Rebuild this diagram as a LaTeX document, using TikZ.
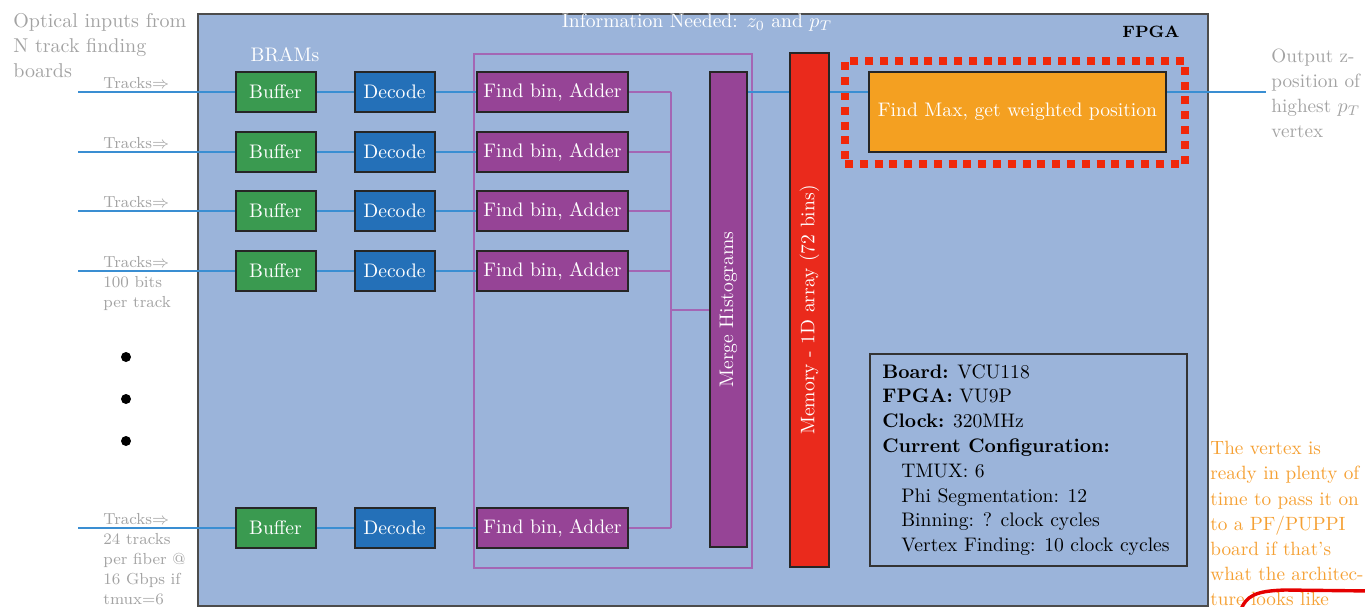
\documentclass[tikz,border=0pt]{standalone}
\usetikzlibrary{calc}
\definecolor{fpgabg}{HTML}{9BB4DA}
\definecolor{bufgreen}{HTML}{3A9A50}
\definecolor{decblue}{HTML}{2470B8}
\definecolor{purp}{HTML}{964496}
\definecolor{purpline}{HTML}{A466B4}
\definecolor{memred}{HTML}{EA2A1C}
\definecolor{orangebox}{HTML}{F4A021}
\definecolor{wire}{HTML}{3A8ED2}
\definecolor{graytext}{HTML}{A3A3A3}
\definecolor{notecol}{HTML}{F5A033}
\definecolor{dotred}{HTML}{F0280A}
\begin{document}
\begin{tikzpicture}[x=0.5pt,y=-0.5pt,
  font=\fontsize{9.8}{12.4}\selectfont,
  blk/.style={draw=black!85, line width=1pt, text=white, inner sep=0pt, minimum height=20pt},
  bufbox/.style={blk, fill=bufgreen, minimum width=40pt},
  decbox/.style={blk, fill=decblue, minimum width=40pt},
  findbox/.style={blk, fill=purp, minimum width=75.5pt},
  wireline/.style={draw=wire, line width=1pt},
  purpwire/.style={draw=purpline, line width=0.8pt},
  graylbl/.style={text=graytext, align=left, inner sep=0pt},
  trk/.style={graylbl, font=\fontsize{8}{10}\selectfont, anchor=north west},
  dotnode/.style={circle, fill=black, inner sep=0pt, minimum size=5pt}
]
\useasboundingbox (0,0) rectangle (1365,606);

% FPGA box
\node[draw=black!70, line width=1pt, fill=fpgabg, minimum width=505pt, minimum height=296pt, anchor=north west, inner sep=0pt] (fpga) at (197,13) {};
\node[font=\fontsize{8.2}{10}\selectfont\bfseries, anchor=east, inner sep=0pt] (fpgalbl) at (1180,32) {FPGA};
\node[text=white, inner sep=0pt] (info) at (697,23) {Information Needed: $z_0$ and $p_T$};
\node[text=white, inner sep=0pt] (brams) at (285,55) {BRAMs};

% group outline
\node[draw=purpline, line width=0.8pt, minimum width=139pt, minimum height=257pt, anchor=north west, inner sep=0pt] (group) at (473,53) {};

% rows
\foreach \i/\y in {1/92,2/152,3/211,4/271,5/528}{
  \node[bufbox] (buf\i) at (275.5,\y) {Buffer};
  \node[decbox] (dec\i) at (394.5,\y) {Decode};
  \node[findbox] (fb\i) at (552.5,\y) {Find bin, Adder};
  \coordinate (in\i) at (78,\y);
  \draw[wireline] (in\i) -- (buf\i);
  \draw[wireline] (buf\i) -- (dec\i);
  \draw[wireline] (dec\i) -- (fb\i);
}

% merge
\node[blk, fill=purp, minimum width=18.5pt, minimum height=237.5pt] (merge) at (728.5,309.5) {\rotatebox{90}{Merge Histograms}};
\coordinate (bustop) at (671,92);
\coordinate (busbot) at (671,528);
\coordinate (busmid) at (671,310);
\foreach \i in {1,2,3,4,5}{
  \draw[purpwire] (fb\i.east) -- (fb\i.east -| bustop);
}
\draw[purpwire] (bustop) -- (busbot);
\draw[purpwire] (busmid) -- (busmid -| merge.west);

% memory
\node[blk, fill=memred, minimum width=19.5pt, minimum height=257pt] (mem) at (809.5,310) {\rotatebox{90}{Memory - 1D array (72 bins)}};

% find max
\node[blk, fill=orangebox, minimum width=148.5pt, minimum height=40pt] (findmax) at (1017.5,112) {Find Max, get weighted position};
\node[draw=dotred, line width=4pt, dash pattern=on 4pt off 3.4pt, minimum width=170pt, minimum height=51.5pt, inner sep=0pt] (dotbox) at (1015,112.5) {};

\coordinate (outend) at (1266,92);
\draw[wireline] (merge.east |- fb1.east) -- (mem.west |- fb1.east);
\draw[wireline] (mem.east |- fb1.east) -- (findmax.west |- fb1.east);
\draw[wireline] (findmax.east |- fb1.east) -- (outend);

% left labels
\node[graylbl, anchor=north west, font=\fontsize{10}{12.5}\selectfont] (optical) at (13,13) {Optical inputs from\\N track finding\\boards};
\node[trk] (t1) at (103,77) {Tracks$\Rightarrow$};
\node[trk] (t2) at (103,137) {Tracks$\Rightarrow$};
\node[trk] (t3) at (103,196) {Tracks$\Rightarrow$};
\node[trk] (t4) at (103,256) {Tracks$\Rightarrow$\\100 bits\\per track};
\node[trk] (t5) at (103,513) {Tracks$\Rightarrow$\\24 tracks\\per fiber @\\16 Gbps if\\tmux=6};

\node[dotnode] (d1) at (126,357) {};
\node[dotnode] (d2) at (126,399) {};
\node[dotnode] (d3) at (126,441) {};

% output label
\node[graylbl, anchor=north west, font=\fontsize{9.6}{12.5}\selectfont] (outlbl) at (1271,49) {Output z-\\position of\\highest $p_T$\\vertex};

% info box
\node[draw=black!80, line width=1pt, minimum width=158.5pt, minimum height=106pt, anchor=north west, inner xsep=5pt, inner ysep=0pt, align=left] (infobox) at (869,353) {%
\hspace*{-2.5pt}\textbf{Board:} VCU118\\
\hspace*{-2.5pt}\textbf{FPGA:} VU9P\\
\hspace*{-2.5pt}\textbf{Clock:} 320MHz\\
\hspace*{-2.5pt}\textbf{Current Configuration:}\\
\hspace*{7pt}TMUX: 6\\
\hspace*{7pt}Phi Segmentation: 12\\
\hspace*{7pt}Binning: ? clock cycles\\
\hspace*{7pt}Vertex Finding: 10 clock cycles};

% note
\node[text=notecol, align=left, anchor=north west, inner sep=0pt, font=\fontsize{9.6}{12.6}\selectfont] (note) at (1210,441) {The vertex is\\ready in plenty of\\time to pass it on\\to a PF/PUPPI\\board if that's\\what the architec-\\ture looks like};

\begin{scope}
\clip (0,0) rectangle (1365,606);
\draw[draw=red!90!black, line width=1.7pt] (1240,612) .. controls (1246,595) and (1256,591) .. (1285,590) -- (1372,591);
\end{scope}
\end{tikzpicture}
\end{document}
